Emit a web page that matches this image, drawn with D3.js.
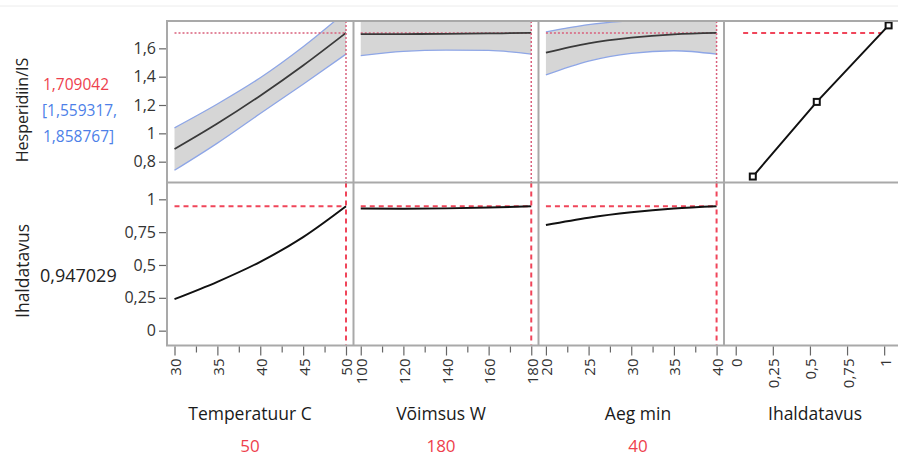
<!DOCTYPE html>
<html>
<head>
<meta charset="utf-8">
<script src="https://cdn.jsdelivr.net/npm/d3@7/dist/d3.min.js"></script>
<style>
  html, body { margin: 0; padding: 0; background: #fff; }
  svg { display: block; font-family: "Open Sans", "Noto Sans", sans-serif; }
</style>
</head>
<body>
<svg id="chart" width="898" height="457"></svg>
<script>
// ---- Factor settings ----
const factorNames = ["Temperatuur C", "Võimsus W", "Aeg min"];
const factorCurrent = [50, 180, 40];
const desirName = "Ihaldatavus";

// ---- Predicted Hesperidiin/IS profiles with confidence limits ----
const tempGrid   = [30, 35, 40, 45, 50];
const tempHesp   = [0.889, 1.069, 1.266, 1.479, 1.709];
const tempHespLo = [0.739, 0.931, 1.140, 1.347, 1.559];
const tempHespHi = [1.039, 1.207, 1.392, 1.611, 1.859];

const powerGrid   = [100, 120, 140, 160, 180];
const powerHesp   = [1.700, 1.701, 1.702, 1.705, 1.709];
const powerHespLo = [1.549, 1.578, 1.588, 1.585, 1.559];
const powerHespHi = [1.851, 1.824, 1.816, 1.825, 1.859];

const timeGrid   = [20, 25, 30, 35, 40];
const timeHesp   = [1.569, 1.635, 1.675, 1.699, 1.709];
const timeHespLo = [1.412, 1.510, 1.565, 1.583, 1.559];
const timeHespHi = [1.716, 1.768, 1.795, 1.815, 1.859];

// ---- Desirability profiles ----
const tempDesir  = [0.240, 0.372, 0.524, 0.712, 0.947];
const powerDesir = [0.930, 0.929, 0.931, 0.937, 0.947];
const timeDesir  = [0.804, 0.860, 0.901, 0.930, 0.947];

// ---- Desirability function for the response ----
const desirFnD = [0.115, 0.546, 1.030];
const desirFnY = [0.695, 1.222, 1.762];
const desirGuideStart = 0.05;

// ---- Current predictions ----
const hespCurrent = 1.709042;
const hespCILow = 1.559317;
const hespCIHigh = 1.858767;
const desirCurrent = 0.947029;

// ---- Tick values and labels ----
const tempTicks  = [30, 35, 40, 45, 50];
const tempMinor  = [32.5, 37.5, 42.5, 47.5];
const powerTicks = [100, 120, 140, 160, 180];
const powerMinor = [110, 130, 150, 170];
const timeTicks  = [20, 25, 30, 35, 40];
const timeMinor  = [22.5, 27.5, 32.5, 37.5];
const desirTicks = [0, 0.25, 0.5, 0.75, 1];
const hespTicks  = [0.8, 1, 1.2, 1.4, 1.6];
const desirYTicks = [0, 0.25, 0.5, 0.75, 1];

// ---- Layout ----
const W = 898, H = 457;
const colEdges = [167, 353.5, 538.5, 724, 899];
const rowEdges = [21, 182.5, 345.5];
const xDomains = [[29.125, 50.875], [96.6, 183.4], [19.13, 40.87], [-0.079, 1.1]];
const hespDomain = [0.653, 1.793];
const desirDomain = [-0.113, 1.128];

const fmt = v => String(v).replace(".", ",");
const frameColor = "#a9a9a9";
const guideTop = "#d9607c";
const guideRed = "#f0455a";
const ciBlue = "#8ea6e6";
const valRed = "#ee3f4d";
const valBlue = "#4d7fe8";

const svg = d3.select("#chart");
const defs = svg.append("defs");

const xScales = xDomains.map((d, i) => d3.scaleLinear().domain(d).range([colEdges[i], colEdges[i + 1]]));
const yTop = d3.scaleLinear().domain(hespDomain).range([rowEdges[1], rowEdges[0]]);
const yBot = d3.scaleLinear().domain(desirDomain).range([rowEdges[2], rowEdges[1]]);
const smooth = d3.curveMonotoneX;

// thin separator line along the top
svg.append("line").attr("x1", 0).attr("x2", W).attr("y1", 6).attr("y2", 6)
  .attr("stroke", "#ececec").attr("stroke-width", 1);

// clip regions for each cell
for (let c = 0; c < 4; c++) {
  for (let r = 0; r < 2; r++) {
    defs.append("clipPath").attr("id", `clip-${r}-${c}`)
      .append("rect")
      .attr("x", colEdges[c]).attr("y", rowEdges[r])
      .attr("width", colEdges[c + 1] - colEdges[c]).attr("height", rowEdges[r + 1] - rowEdges[r]);
  }
}

const profiles = [
  { grid: tempGrid, hesp: tempHesp, lo: tempHespLo, hi: tempHespHi, desir: tempDesir },
  { grid: powerGrid, hesp: powerHesp, lo: powerHespLo, hi: powerHespHi, desir: powerDesir },
  { grid: timeGrid, hesp: timeHesp, lo: timeHespLo, hi: timeHespHi, desir: timeDesir }
];

profiles.forEach((p, i) => {
  const x = xScales[i];
  const idx = d3.range(p.grid.length);

  // --- top row: response with confidence band ---
  const gT = svg.append("g").attr("clip-path", `url(#clip-0-${i})`);
  gT.append("path").datum(idx)
    .attr("d", d3.area().curve(smooth).x(j => x(p.grid[j])).y0(j => yTop(p.lo[j])).y1(j => yTop(p.hi[j])))
    .attr("fill", "#d6d6d6");
  [p.lo, p.hi].forEach(arr => {
    gT.append("path").datum(idx)
      .attr("d", d3.line().curve(smooth).x(j => x(p.grid[j])).y(j => yTop(arr[j])))
      .attr("fill", "none").attr("stroke", ciBlue).attr("stroke-width", 1.3);
  });
  gT.append("line")
    .attr("x1", x(p.grid[0])).attr("x2", x(factorCurrent[i]))
    .attr("y1", yTop(hespCurrent)).attr("y2", yTop(hespCurrent))
    .attr("stroke", guideTop).attr("stroke-width", 1.5).attr("stroke-dasharray", "2,2");
  gT.append("path").datum(idx)
    .attr("d", d3.line().curve(smooth).x(j => x(p.grid[j])).y(j => yTop(p.hesp[j])))
    .attr("fill", "none").attr("stroke", "#3a3a3a").attr("stroke-width", 1.8);
  gT.append("line")
    .attr("x1", x(factorCurrent[i])).attr("x2", x(factorCurrent[i]))
    .attr("y1", rowEdges[0]).attr("y2", rowEdges[1])
    .attr("stroke", guideTop).attr("stroke-width", 1.5).attr("stroke-dasharray", "2,2");

  // --- bottom row: desirability ---
  const gB = svg.append("g").attr("clip-path", `url(#clip-1-${i})`);
  gB.append("line")
    .attr("x1", x(p.grid[0])).attr("x2", x(factorCurrent[i]))
    .attr("y1", yBot(desirCurrent)).attr("y2", yBot(desirCurrent))
    .attr("stroke", guideRed).attr("stroke-width", 2).attr("stroke-dasharray", "5,4");
  gB.append("path").datum(idx)
    .attr("d", d3.line().curve(smooth).x(j => x(p.grid[j])).y(j => yBot(p.desir[j])))
    .attr("fill", "none").attr("stroke", "#111").attr("stroke-width", 2);
  gB.append("line")
    .attr("x1", x(factorCurrent[i])).attr("x2", x(factorCurrent[i]))
    .attr("y1", rowEdges[1]).attr("y2", rowEdges[2])
    .attr("stroke", guideRed).attr("stroke-width", 2).attr("stroke-dasharray", "5,4");
});

// --- desirability function cell ---
{
  const x = xScales[3];
  const g = svg.append("g").attr("clip-path", `url(#clip-0-3)`);
  // where the function reaches the current response
  let dAt = desirFnD[desirFnD.length - 1];
  for (let k = 0; k < desirFnY.length - 1; k++) {
    if (hespCurrent >= desirFnY[k] && hespCurrent <= desirFnY[k + 1]) {
      const t = (hespCurrent - desirFnY[k]) / (desirFnY[k + 1] - desirFnY[k]);
      dAt = desirFnD[k] + t * (desirFnD[k + 1] - desirFnD[k]);
    }
  }
  g.append("line")
    .attr("x1", x(desirGuideStart)).attr("x2", x(dAt))
    .attr("y1", yTop(hespCurrent)).attr("y2", yTop(hespCurrent))
    .attr("stroke", guideRed).attr("stroke-width", 2).attr("stroke-dasharray", "5,4");
  const pts = desirFnD.map((d, k) => [x(d), yTop(desirFnY[k])]);
  g.append("path").attr("d", d3.line()(pts))
    .attr("fill", "none").attr("stroke", "#111").attr("stroke-width", 2);
  g.selectAll("rect.mk").data(pts).join("rect").attr("class", "mk")
    .attr("x", d => d[0] - 3).attr("y", d => d[1] - 3)
    .attr("width", 6).attr("height", 6)
    .attr("fill", "#fff").attr("stroke", "#111").attr("stroke-width", 2);
}

// --- frame lines ---
const frame = svg.append("g").attr("stroke", frameColor).attr("stroke-width", 2);
rowEdges.forEach(y => frame.append("line").attr("x1", colEdges[0] - 1).attr("x2", W).attr("y1", y).attr("y2", y));
colEdges.slice(0, 4).forEach(xv => frame.append("line").attr("x1", xv).attr("x2", xv).attr("y1", rowEdges[0]).attr("y2", rowEdges[2]));

// --- y axes ---
function yAxis(scale, ticks) {
  const g = svg.append("g").attr("transform", `translate(${colEdges[0] - 1},0)`)
    .call(d3.axisLeft(scale).tickValues(ticks).tickSize(7).tickPadding(3).tickFormat(fmt));
  g.select(".domain").remove();
  g.selectAll("line").attr("stroke", "#666").attr("stroke-width", 1.2);
  g.selectAll("text").attr("font-size", 16).attr("fill", "#333").attr("font-family", "Open Sans");
}
yAxis(yTop, hespTicks);
yAxis(yBot, desirYTicks);

// --- x axes ---
const xTickSets = [tempTicks, powerTicks, timeTicks, desirTicks];
const xMinorSets = [tempMinor, powerMinor, timeMinor, []];
xScales.forEach((x, i) => {
  const base = rowEdges[2] + 1;
  const gMin = svg.append("g").attr("transform", `translate(0,${base})`)
    .call(d3.axisBottom(x).tickValues(xMinorSets[i]).tickSize(6).tickFormat(""));
  gMin.select(".domain").remove();
  gMin.selectAll("line").attr("stroke", "#666").attr("stroke-width", 1.2);

  const g = svg.append("g").attr("transform", `translate(0,${base})`)
    .call(d3.axisBottom(x).tickValues(xTickSets[i]).tickSize(9).tickFormat(fmt));
  g.select(".domain").remove();
  g.selectAll("line").attr("stroke", "#666").attr("stroke-width", 1.2);
  g.selectAll("text")
    .attr("font-size", 15).attr("fill", "#333").attr("font-family", "Open Sans")
    .attr("y", 0).attr("dy", null)
    .attr("text-anchor", "end")
    .attr("dominant-baseline", "central")
    .attr("transform", "translate(0,12) rotate(-90)");
});

// --- factor titles and current settings ---
const titleX = [250, 441, 638, 815];
factorNames.concat([desirName]).forEach((n, i) => {
  svg.append("text").attr("x", titleX[i]).attr("y", 420)
    .attr("text-anchor", "middle").attr("font-size", 17.5).attr("fill", "#1a1a1a")
    .text(n);
});
factorCurrent.forEach((v, i) => {
  svg.append("text").attr("x", titleX[i]).attr("y", 451.5)
    .attr("text-anchor", "middle").attr("font-size", 17).attr("fill", valRed)
    .text(fmt(v));
});

// --- response labels on the left ---
svg.append("text").attr("transform", "translate(27.5,110) rotate(-90)")
  .attr("text-anchor", "middle").attr("font-size", 16).attr("fill", "#222")
  .text("Hesperidiin/IS");
svg.append("text").attr("transform", "translate(29,271) rotate(-90)")
  .attr("text-anchor", "middle").attr("font-size", 17.5).attr("fill", "#222")
  .text(desirName);

svg.append("text").attr("x", 43).attr("y", 90).attr("font-size", 15.5).attr("fill", valRed)
  .text(fmt(hespCurrent));
svg.append("text").attr("x", 42).attr("y", 116).attr("font-size", 15.5).attr("fill", valBlue)
  .text("[" + fmt(hespCILow) + ",");
svg.append("text").attr("x", 43).attr("y", 142).attr("font-size", 15.5).attr("fill", valBlue)
  .text(fmt(hespCIHigh) + "]");
svg.append("text").attr("x", 40).attr("y", 281.5).attr("font-size", 18).attr("fill", "#222")
  .text(fmt(desirCurrent));
</script>
</body>
</html>
